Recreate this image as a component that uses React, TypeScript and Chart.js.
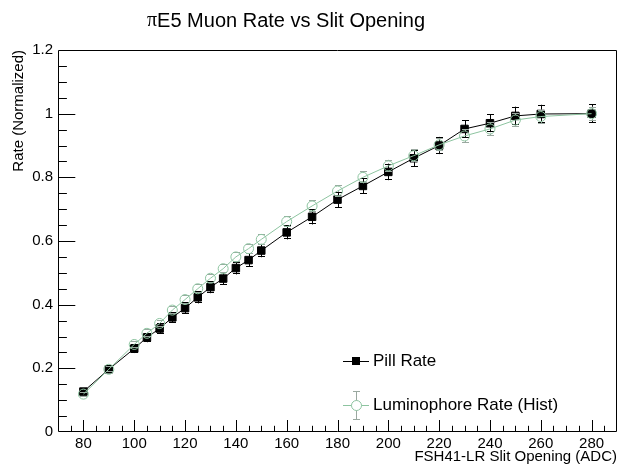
import React, { useEffect, useRef } from 'react';
import { Chart, registerables } from 'chart.js';

Chart.register(...registerables);

const chartTitle = 'πE5 Muon Rate vs Slit Opening';
const xAxisTitle = 'FSH41-LR Slit Opening (ADC)';
const yAxisTitle = 'Rate (Normalized)';

const slitOpening = [80, 90, 100, 105, 110, 115, 120, 125, 130, 135, 140, 145, 150, 160, 170, 180, 190, 200, 210, 220, 230, 240, 250, 260, 280];
const pillRate = [0.127, 0.197, 0.262, 0.297, 0.325, 0.36, 0.389, 0.423, 0.455, 0.482, 0.515, 0.54, 0.57, 0.627, 0.676, 0.73, 0.773, 0.817, 0.86, 0.9, 0.952, 0.97, 0.993, 0.999, 1.0];
const pillErr = [0.01, 0.012, 0.014, 0.015, 0.016, 0.017, 0.018, 0.019, 0.019, 0.02, 0.02, 0.021, 0.021, 0.022, 0.024, 0.025, 0.025, 0.026, 0.027, 0.027, 0.028, 0.028, 0.029, 0.029, 0.029];
const lumRate = [0.119, 0.197, 0.275, 0.31, 0.341, 0.383, 0.416, 0.45, 0.483, 0.513, 0.55, 0.576, 0.605, 0.661, 0.71, 0.757, 0.8, 0.836, 0.868, 0.902, 0.93, 0.952, 0.98, 0.991, 1.0];
const lumErr = [0.008, 0.01, 0.011, 0.012, 0.012, 0.013, 0.013, 0.014, 0.014, 0.015, 0.015, 0.016, 0.016, 0.017, 0.018, 0.018, 0.019, 0.019, 0.02, 0.02, 0.021, 0.021, 0.022, 0.022, 0.022];

const xTickValues = [80, 100, 120, 140, 160, 180, 200, 220, 240, 260, 280];
const xTickLabels = ['80', '100', '120', '140', '160', '180', '200', '220', '240', '260', '280'];
const yTickValues = [0, 0.2, 0.4, 0.6, 0.8, 1.0, 1.2];
const yTickLabels = ['0', '0.2', '0.4', '0.6', '0.8', '1', '1.2'];

const X_MIN = 70;
const X_MAX = 290;
const Y_MIN = 0;
const Y_MAX = 1.2;

const SANS = '"Liberation Sans", Arial, Helvetica, sans-serif';
const SERIF = '"Liberation Serif", "DejaVu Serif", serif';
const BLACK = '#000000';
const GREEN = '#8dc4a0';
const GREEN_ERR = '#9aa8a0';

const errorBarPlugin = {
  id: 'errorBars',
  beforeDatasetDraw(chart: any, args: any) {
    const ds = chart.data.datasets[args.index];
    const errs: number[] | undefined = ds.errors;
    if (!errs) return;
    const { ctx, scales } = chart;
    const xs = scales.x;
    const ys = scales.y;
    const skip = ds.hollow ? ds.pointRadius : 0;
    ctx.save();
    ctx.strokeStyle = ds.errorColor;
    ctx.lineWidth = 1;
    ds.data.forEach((pt: any, i: number) => {
      const px = Math.round(xs.getPixelForValue(pt.x)) + 0.5;
      const py = ys.getPixelForValue(pt.y);
      const top = ys.getPixelForValue(pt.y + errs[i]);
      const bot = ys.getPixelForValue(pt.y - errs[i]);
      ctx.beginPath();
      if (skip > 0) {
        if (py - top > skip) {
          ctx.moveTo(px, top);
          ctx.lineTo(px, py - skip);
          ctx.moveTo(px, py + skip);
          ctx.lineTo(px, bot);
        }
      } else {
        ctx.moveTo(px, top);
        ctx.lineTo(px, bot);
      }
      const t = Math.round(top) + 0.5;
      const b = Math.round(bot) - 0.5;
      ctx.moveTo(px - 3.5, t);
      ctx.lineTo(px + 3.5, t);
      ctx.moveTo(px - 3.5, b);
      ctx.lineTo(px + 3.5, b);
      ctx.stroke();
    });
    ctx.restore();
  },
};

const framePlugin = {
  id: 'rootFrame',
  beforeDatasetsDraw(chart: any) {
    const { ctx, chartArea: a, scales } = chart;
    const xs = scales.x;
    const ys = scales.y;
    ctx.save();
    ctx.strokeStyle = BLACK;
    ctx.lineWidth = 1;
    const L = Math.round(a.left) + 0.5;
    const R = Math.round(a.right) - 0.5;
    const T = Math.round(a.top) + 0.5;
    const B = Math.round(a.bottom) - 0.5;
    ctx.beginPath();
    ctx.rect(L, T, R - L, B - T);
    ctx.stroke();
    ctx.beginPath();
    for (let v = X_MIN + 5; v < X_MAX; v += 5) {
      const px = Math.round(xs.getPixelForValue(v)) + 0.5;
      const major = v % 20 === 0;
      const len = major ? 11.5 : 5.7;
      ctx.moveTo(px, B);
      ctx.lineTo(px, B - len);
    }
    for (let k = 1; k < 24; k++) {
      const v = k * 0.05;
      const py = Math.round(ys.getPixelForValue(v)) + 0.5;
      const major = k % 4 === 0;
      const len = major ? 16.8 : 8.4;
      ctx.moveTo(L, py);
      ctx.lineTo(L + len, py);
    }
    ctx.stroke();
    ctx.restore();
  },
};

const titlePlugin = {
  id: 'rootTitle',
  afterDraw(chart: any) {
    const { ctx } = chart;
    ctx.save();
    ctx.fillStyle = BLACK;
    ctx.textBaseline = 'middle';
    ctx.textAlign = 'left';
    const first = chartTitle.slice(0, 1);
    const rest = chartTitle.slice(1);
    ctx.font = `20px ${SERIF}`;
    const w1 = ctx.measureText(first).width;
    ctx.font = `20px ${SANS}`;
    const w2 = ctx.measureText(rest).width;
    const cx = 286;
    const x0 = cx - (w1 + w2) / 2;
    ctx.font = `20px ${SERIF}`;
    ctx.fillText(first, x0, 21);
    ctx.font = `20px ${SANS}`;
    ctx.fillText(rest, x0 + w1, 21);
    ctx.restore();
  },
};

const legendPlugin = {
  id: 'rootLegend',
  afterDraw(chart: any) {
    const { ctx } = chart;
    const dsets = chart.data.datasets;
    const pill = dsets.find((d: any) => d.key === 'pill');
    const lum = dsets.find((d: any) => d.key === 'lum');
    const x0 = 343;
    const x1 = 369;
    const xm = 356.5;
    ctx.save();
    ctx.lineWidth = 1;
    // Pill entry
    let yy = 361.5;
    ctx.strokeStyle = BLACK;
    ctx.beginPath();
    ctx.moveTo(x0, yy);
    ctx.lineTo(x1, yy);
    ctx.stroke();
    ctx.fillStyle = BLACK;
    ctx.fillRect(xm - 4.5, yy - 4.5, 8, 8);
    ctx.font = `17px ${SANS}`;
    ctx.textBaseline = 'middle';
    ctx.textAlign = 'left';
    ctx.fillText(pill.label, 373, yy);
    // Luminophore entry
    yy = 405.5;
    ctx.strokeStyle = GREEN;
    ctx.beginPath();
    ctx.moveTo(x0, yy);
    ctx.lineTo(xm - 5, yy);
    ctx.moveTo(xm + 5, yy);
    ctx.lineTo(x1, yy);
    ctx.stroke();
    ctx.beginPath();
    ctx.arc(xm, yy, 5, 0, Math.PI * 2);
    ctx.stroke();
    ctx.strokeStyle = GREEN_ERR;
    ctx.beginPath();
    ctx.moveTo(xm, yy - 14);
    ctx.lineTo(xm, yy - 5);
    ctx.moveTo(xm, yy + 5);
    ctx.lineTo(xm, yy + 14);
    ctx.moveTo(xm - 3.5, yy - 14);
    ctx.lineTo(xm + 3.5, yy - 14);
    ctx.moveTo(xm - 3.5, yy + 14);
    ctx.lineTo(xm + 3.5, yy + 14);
    ctx.stroke();
    ctx.fillStyle = BLACK;
    ctx.fillText(lum.label, 373, yy);
    ctx.restore();
  },
};

export default function App() {
  const canvasRef = useRef<HTMLCanvasElement | null>(null);

  useEffect(() => {
    const canvas = canvasRef.current;
    if (!canvas) return;
    Chart.defaults.font.family = SANS;
    const pillData = slitOpening.map((x, i) => ({ x, y: pillRate[i] }));
    const lumData = slitOpening.map((x, i) => ({ x, y: lumRate[i] }));
    const chart = new Chart(canvas, {
      type: 'line',
      data: {
        datasets: [
          {
            key: 'pill',
            label: 'Pill Rate',
            data: pillData,
            errors: pillErr,
            errorColor: BLACK,
            hollow: false,
            borderColor: BLACK,
            backgroundColor: BLACK,
            borderWidth: 1,
            pointStyle: 'rect',
            pointRadius: 5.3,
            pointBorderWidth: 1,
            pointBorderColor: BLACK,
            pointBackgroundColor: BLACK,
            tension: 0,
            order: 2,
          } as any,
          {
            key: 'lum',
            label: 'Luminophore Rate (Hist)',
            data: lumData,
            errors: lumErr,
            errorColor: GREEN_ERR,
            hollow: true,
            borderColor: GREEN,
            backgroundColor: 'rgba(0,0,0,0)',
            borderWidth: 1,
            pointStyle: 'circle',
            pointRadius: 5,
            pointBorderWidth: 1,
            pointBorderColor: GREEN,
            pointBackgroundColor: 'rgba(0,0,0,0)',
            tension: 0,
            order: 1,
          } as any,
        ],
      },
      options: {
        animation: false,
        responsive: false,
        devicePixelRatio: 1,
        layout: { autoPadding: false, padding: { left: 0, right: 2, top: 50, bottom: 0 } },
        plugins: {
          legend: { display: false },
          title: { display: false },
          tooltip: { enabled: false },
        },
        scales: {
          x: {
            type: 'linear',
            min: X_MIN,
            max: X_MAX,
            afterBuildTicks: (s: any) => {
              s.ticks = xTickValues.map((v) => ({ value: v }));
            },
            afterFit: (s: any) => {
              s.height = 36;
              s.paddingLeft = 0;
              s.paddingRight = 0;
            },
            grid: { display: false, drawTicks: false },
            border: { display: false },
            ticks: {
              color: BLACK,
              font: { size: 15, family: SANS },
              padding: 3,
              maxRotation: 0,
              autoSkip: false,
              callback: (v: any) => {
                const i = xTickValues.indexOf(Number(v));
                return i >= 0 ? xTickLabels[i] : '';
              },
            },
            title: {
              display: true,
              text: xAxisTitle,
              align: 'end',
              color: BLACK,
              font: { size: 15, family: SANS },
              padding: { top: 0, bottom: 2 },
            },
          },
          y: {
            type: 'linear',
            min: Y_MIN,
            max: Y_MAX,
            afterBuildTicks: (s: any) => {
              s.ticks = yTickValues.map((v) => ({ value: v }));
            },
            afterFit: (s: any) => {
              s.width = 58;
              s.paddingTop = 0;
              s.paddingBottom = 0;
            },
            grid: { display: false, drawTicks: false },
            border: { display: false },
            ticks: {
              color: BLACK,
              font: { size: 15, family: SANS },
              padding: 5,
              autoSkip: false,
              callback: (v: any) => {
                const i = yTickValues.findIndex((t) => Math.abs(t - Number(v)) < 1e-9);
                return i >= 0 ? yTickLabels[i] : '';
              },
            },
            title: {
              display: true,
              text: yAxisTitle,
              align: 'end',
              color: BLACK,
              font: { size: 15, family: SANS },
              padding: { top: 10, bottom: 0 },
            },
          },
        },
      } as any,
      plugins: [framePlugin, errorBarPlugin, titlePlugin, legendPlugin],
    });
    return () => chart.destroy();
  }, []);

  return (
    <div style={{ position: 'absolute', left: 0, top: 0, width: 619, height: 468, background: '#fff' }}>
      <canvas ref={canvasRef} width={619} height={468} style={{ display: 'block' }} />
    </div>
  );
}
